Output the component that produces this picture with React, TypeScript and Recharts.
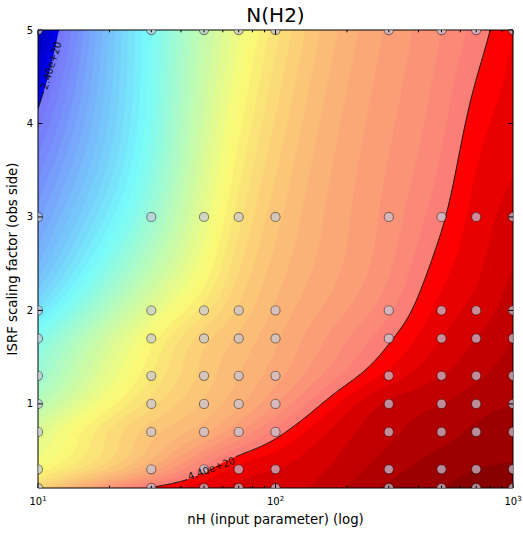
import React from 'react';
import { ComposedChart, Area, Line, Scatter, XAxis, YAxis } from 'recharts';

// ---------------- data ----------------
// model grid: gas density nH and ISRF scaling factor
const nHValues = [10, 30, 50, 70, 100, 300, 500, 700, 1000];
const isrfValues = [0.1, 0.3, 0.7, 1, 1.3, 1.7, 2, 3, 5];
// N(H2) of each model, in units of 1e20 cm^-2, one array per ISRF value (ordered by nH)
const nh2AtIsrf0p1 = [3.96, 4.41, 4.49, 4.51, 4.52, 4.66, 4.7, 4.72, 4.75];
const nh2AtIsrf0p3 = [3.77, 4.17, 4.38, 4.47, 4.5, 4.63, 4.68, 4.7, 4.71];
const nh2AtIsrf0p7 = [3.61, 4.03, 4.14, 4.25, 4.37, 4.59, 4.63, 4.66, 4.68];
const nh2AtIsrf1p0 = [3.43, 3.93, 4.06, 4.14, 4.25, 4.56, 4.6, 4.63, 4.65];
const nh2AtIsrf1p3 = [3.29, 3.85, 4.02, 4.1, 4.18, 4.47, 4.55, 4.59, 4.63];
const nh2AtIsrf1p7 = [3.16, 3.77, 3.98, 4.06, 4.14, 4.39, 4.5, 4.55, 4.6];
const nh2AtIsrf2p0 = [2.97, 3.64, 3.88, 4.01, 4.11, 4.34, 4.47, 4.52, 4.58];
const nh2AtIsrf3p0 = [2.63, 3.29, 3.66, 3.88, 4.03, 4.27, 4.39, 4.47, 4.52];
const nh2AtIsrf5p0 = [2.23, 3.12, 3.48, 3.69, 3.88, 4.21, 4.3, 4.37, 4.45];
const nh2Rows = [
  nh2AtIsrf0p1, nh2AtIsrf0p3, nh2AtIsrf0p7, nh2AtIsrf1p0, nh2AtIsrf1p3,
  nh2AtIsrf1p7, nh2AtIsrf2p0, nh2AtIsrf3p0, nh2AtIsrf5p0,
];

// contour levels (1e20 cm^-2)
const levelMin = 2.1;
const levelMax = 4.75;
const levelStep = 0.05;
// observed range (highlighted contours)
const markedLevels = [2.4, 4.4];
const markedLabels = ['2.40e+20', '4.40e+20'];
const labelGapsLog = [[1.024, 1.086], [1.63, 1.83]];
const labelAtLog = [1.055, 1.73];
const labelAngles = [-73, -20];

// axis ticks
const xMajorTicks = [10, 100, 1000];
const xMinorTicks = [20, 30, 40, 50, 60, 70, 80, 90, 200, 300, 400, 500, 600, 700, 800, 900];
const xTickExponents: Record<number, string> = { 10: '1', 100: '2', 1000: '3' };
const yTicks = [1, 2, 3, 4, 5];

// ---------------- interpolation (natural cubic spline) ----------------
function splineM(xs: number[], ys: number[]): number[] {
  const n = xs.length;
  const a = new Array(n).fill(0);
  const b = new Array(n).fill(1);
  const c = new Array(n).fill(0);
  const r = new Array(n).fill(0);
  for (let i = 1; i < n - 1; i++) {
    const h0 = xs[i] - xs[i - 1];
    const h1 = xs[i + 1] - xs[i];
    a[i] = h0 / 6;
    b[i] = (h0 + h1) / 3;
    c[i] = h1 / 6;
    r[i] = (ys[i + 1] - ys[i]) / h1 - (ys[i] - ys[i - 1]) / h0;
  }
  const cp = new Array(n).fill(0);
  const rp = new Array(n).fill(0);
  cp[0] = c[0] / b[0];
  rp[0] = r[0] / b[0];
  for (let i = 1; i < n; i++) {
    const den = b[i] - a[i] * cp[i - 1];
    cp[i] = c[i] / den;
    rp[i] = (r[i] - a[i] * rp[i - 1]) / den;
  }
  const M = new Array(n).fill(0);
  M[n - 1] = rp[n - 1];
  for (let i = n - 2; i >= 0; i--) M[i] = rp[i] - cp[i] * M[i + 1];
  return M;
}

function splineEval(xs: number[], ys: number[], M: number[], x: number): number {
  const n = xs.length;
  let i = 0;
  if (x >= xs[n - 1]) i = n - 2;
  else if (x > xs[0]) {
    while (x > xs[i + 1]) i++;
  }
  const h = xs[i + 1] - xs[i];
  const A = (xs[i + 1] - x) / h;
  const B = (x - xs[i]) / h;
  return (
    A * ys[i] +
    B * ys[i + 1] +
    ((A * A * A - A) * M[i] + (B * B * B - B) * M[i + 1]) * (h * h) / 6
  );
}

const logNodes = nHValues.map((v) => Math.log10(v));
const rowM = nh2Rows.map((r) => splineM(logNodes, r));
const gMin = isrfValues[0];
const gMax = isrfValues[isrfValues.length - 1];

function columnAt(L: number) {
  const col = nh2Rows.map((r, j) => splineEval(logNodes, r, rowM[j], L));
  const cm = splineM(isrfValues, col);
  return (g: number) => splineEval(isrfValues, col, cm, g);
}

// highest ISRF value (at given nH) where N(H2) >= level
function solve(f: (g: number) => number, lv: number): { g: number; state: number } {
  if (f(gMin) < lv) return { g: gMin, state: -1 };
  if (f(gMax) >= lv) return { g: gMax, state: 1 };
  let lo = gMin;
  let hi = gMax;
  for (let i = 0; i < 40; i++) {
    const mid = (lo + hi) / 2;
    if (f(mid) >= lv) lo = mid;
    else hi = mid;
  }
  return { g: (lo + hi) / 2, state: 0 };
}

const levels: number[] = [];
for (let k = 0; levelMin + k * levelStep <= levelMax + 1e-9; k++) {
  levels.push(Math.round((levelMin + k * levelStep) * 100) / 100);
}
const nBands = levels.length - 1;

// jet colormap
const clamp01 = (v: number) => Math.min(1, Math.max(0, v));
function jet(t: number) {
  return [
    clamp01(1.5 - Math.abs(4 * t - 3)),
    clamp01(1.5 - Math.abs(4 * t - 2)),
    clamp01(1.5 - Math.abs(4 * t - 1)),
  ];
}
function bandColor(k: number) {
  const mid = (levels[k] + levels[k + 1]) / 2;
  const t = clamp01((mid - levelMin) / (levelMax - levelMin));
  let rgb = jet(t);
  const inRange = mid > markedLevels[0] && mid < markedLevels[1];
  if (inRange) {
    const a = 0.52;
    rgb = rgb.map((c) => a * c + (1 - a) * 0.97);
  }
  const hx = rgb.map((c) => Math.round(c * 255).toString(16).padStart(2, '0')).join('');
  return '#' + hx;
}

// ---------------- build chart rows ----------------
const SAMPLES = 420;
const fieldRows: any[] = [];
const marked: { g: number; state: number }[][] = markedLevels.map(() => []);
const sampleLogs: number[] = [];
for (let s = 0; s <= SAMPLES; s++) {
  const L = 1 + (2 * s) / SAMPLES;
  sampleLogs.push(L);
  const f = columnAt(L);
  const row: any = { nH: Math.pow(10, L) };
  for (let k = 0; k < nBands; k++) row['a' + k] = solve(f, levels[k]).g;
  markedLevels.forEach((lv, c) => marked[c].push(solve(f, lv)));
  fieldRows.push(row);
}
marked.forEach((arr, c) => {
  arr.forEach((r, i) => {
    const near =
      r.state === 0 ||
      (i > 0 && arr[i - 1].state === 0) ||
      (i < arr.length - 1 && arr[i + 1].state === 0);
    const L = sampleLogs[i];
    const inGap = L > labelGapsLog[c][0] && L < labelGapsLog[c][1];
    fieldRows[i]['c' + c] = near && !inGap ? r.g : null;
  });
});

const labelPoints = markedLevels.map((lv, c) => {
  const f = columnAt(labelAtLog[c]);
  return { nH: Math.pow(10, labelAtLog[c]), g: solve(f, lv).g, text: markedLabels[c], angle: labelAngles[c] };
});

const gridPoints = nHValues.flatMap((nH) => isrfValues.map((g) => ({ nH, g })));

const bands = Array.from({ length: nBands }, (_, k) => ({ key: 'a' + k, color: bandColor(k) }));

const xTicks = [...xMajorTicks, ...xMinorTicks].sort((a, b) => a - b);

// ---------------- rendering ----------------
const W = 523;
const H = 534;
const FONT = 'DejaVu Sans';

const BottomTick = (p: any) => {
  const { x, y, payload } = p;
  const v = payload.value;
  const major = xMajorTicks.includes(v);
  return (
    <g>
      <line x1={x} y1={y} x2={x} y2={y - (major ? 4.5 : 2.3)} stroke="#000" strokeWidth={1} />
      {major && (
        <text x={x} y={y + 17} textAnchor="middle" fontSize={10} fontFamily={FONT} fill="#000">
          10
          <tspan dy={-4} fontSize={7}>
            {xTickExponents[v]}
          </tspan>
        </text>
      )}
    </g>
  );
};

const TopTick = (p: any) => {
  const { x, y, payload } = p;
  const major = xMajorTicks.includes(payload.value);
  return <line x1={x} y1={y} x2={x} y2={y + (major ? 4.5 : 2.3)} stroke="#000" strokeWidth={1} />;
};

const LeftTick = (p: any) => {
  const { x, y, payload } = p;
  return (
    <g>
      <line x1={x} y1={y} x2={x + 4.5} y2={y} stroke="#000" strokeWidth={1} />
      <text x={x - 5} y={y} dy="0.35em" textAnchor="end" fontSize={10} fontFamily={FONT} fill="#000">
        {payload.value}
      </text>
    </g>
  );
};

const RightTick = (p: any) => {
  const { x, y } = p;
  return <line x1={x} y1={y} x2={x - 4.5} y2={y} stroke="#000" strokeWidth={1} />;
};

const GridDot = (p: any) => (
  <circle
    cx={p.cx}
    cy={p.cy}
    r={4.6}
    fill="#c4c6d8"
    fillOpacity={0.7}
    stroke="#000"
    strokeOpacity={0.42}
    strokeWidth={1.1}
  />
);

const ContourLabel = (p: any) => (
  <text
    x={p.cx}
    y={p.cy}
    dy="0.35em"
    transform={`rotate(${p.payload.angle} ${p.cx} ${p.cy})`}
    textAnchor="middle"
    fontSize={10}
    fontFamily={FONT}
    fill="#111"
  >
    {p.payload.text}
  </text>
);

export default function App() {
  return (
    <div style={{ position: 'relative', width: W, height: H, fontFamily: FONT }}>
      <style>{'html,body{margin:0;padding:0;overflow:hidden}'}</style>
      <ComposedChart width={W} height={H} data={fieldRows} margin={{ top: 0, right: 0, bottom: 0, left: 0 }}>
        {bands.map((b) => (
          <Area
            key={b.key}
            dataKey={b.key}
            type="linear"
            stroke="none"
            fill={b.color}
            fillOpacity={1}
            baseValue={0.1}
            dot={false}
            activeDot={false}
            isAnimationActive={false}
          />
        ))}
        <Line dataKey="c0" type="linear" stroke="#1a1a1a" strokeWidth={1} dot={false} activeDot={false} isAnimationActive={false} />
        <Line dataKey="c1" type="linear" stroke="#1a1a1a" strokeWidth={1} dot={false} activeDot={false} isAnimationActive={false} />
        <Scatter data={gridPoints} dataKey="g" shape={GridDot} isAnimationActive={false} />
        <Scatter data={labelPoints} dataKey="g" shape={ContourLabel} isAnimationActive={false} />
        <XAxis
          dataKey="nH"
          type="number"
          scale="log"
          domain={[10, 1000]}
          allowDataOverflow
          ticks={xTicks}
          interval={0}
          tickLine={false}
          tickSize={0}
          tickMargin={0}
          tick={BottomTick}
          height={46}
          axisLine={{ stroke: '#000' }}
        />
        <XAxis
          xAxisId="top"
          orientation="top"
          dataKey="nH"
          type="number"
          scale="log"
          domain={[10, 1000]}
          allowDataOverflow
          ticks={xTicks}
          interval={0}
          tickLine={false}
          tickSize={0}
          tickMargin={0}
          tick={TopTick}
          height={30}
          axisLine={{ stroke: '#000' }}
        />
        <YAxis
          type="number"
          domain={[0.1, 5]}
          allowDataOverflow
          ticks={yTicks}
          interval={0}
          tickLine={false}
          tickSize={0}
          tickMargin={0}
          tick={LeftTick}
          width={38}
          axisLine={{ stroke: '#000' }}
        />
        <YAxis
          yAxisId="right"
          orientation="right"
          type="number"
          domain={[0.1, 5]}
          allowDataOverflow
          ticks={yTicks}
          interval={0}
          tickLine={false}
          tickSize={0}
          tickMargin={0}
          tick={RightTick}
          width={10}
          axisLine={{ stroke: '#000' }}
        />
      </ComposedChart>
      <svg
        width={W}
        height={H}
        style={{ position: 'absolute', left: 0, top: 0, pointerEvents: 'none' }}
        fontFamily={FONT}
      >
        <text x={275.5} y={22} textAnchor="middle" fontSize={20} fill="#000">
          N(H2)
        </text>
        <text x={275.5} y={524} textAnchor="middle" fontSize={13.3} fill="#000">
          nH (input parameter) (log)
        </text>
        <text transform="translate(16.5 259) rotate(-90)" textAnchor="middle" fontSize={13.3} fill="#000">
          ISRF scaling factor (obs side)
        </text>
      </svg>
    </div>
  );
}
